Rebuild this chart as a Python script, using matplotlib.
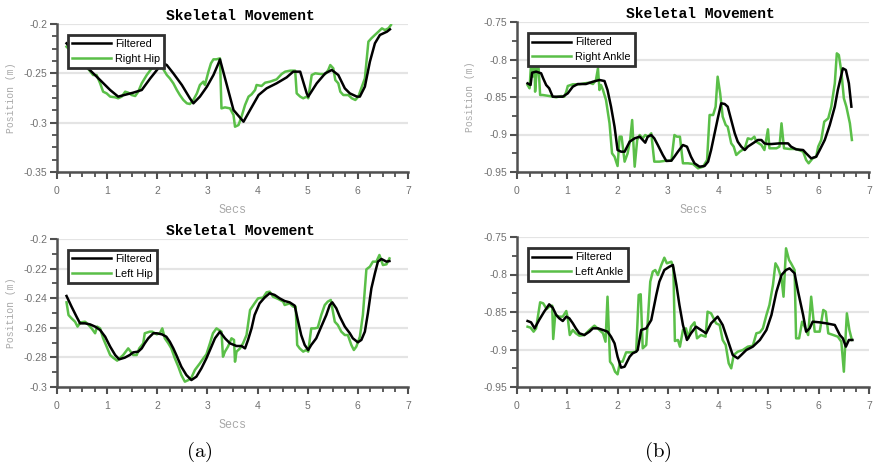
import matplotlib
matplotlib.use("Agg")
import matplotlib.pyplot as plt
from matplotlib.ticker import MultipleLocator, FixedLocator, FixedFormatter

plt.rcParams['mathtext.fontset'] = 'cm'

# ---------------- data ----------------
# Top-left: Right Hip
rhip_f_t = [0.19, 0.62, 0.86, 1.06, 1.22, 1.52, 1.69, 1.86, 2.02, 2.12, 2.19, 2.32, 2.49, 2.65, 2.72, 2.85, 2.99, 3.12, 3.22, 3.25, 3.52, 3.72, 3.85, 4.02, 4.18, 4.38, 4.58, 4.71, 4.85, 4.98, 5.01, 5.18, 5.35, 5.48, 5.61, 5.74, 5.84, 5.98, 6.04, 6.14, 6.24, 6.34, 6.44, 6.58, 6.64]
rhip_f_v = [-0.2196, -0.2449, -0.2568, -0.2669, -0.2736, -0.2696, -0.2669, -0.2551, -0.2449, -0.2399, -0.2416, -0.2500, -0.2618, -0.2753, -0.2804, -0.2736, -0.2635, -0.2517, -0.2399, -0.2358, -0.2872, -0.2990, -0.2872, -0.2720, -0.2652, -0.2601, -0.2541, -0.2483, -0.2483, -0.2703, -0.2736, -0.2601, -0.2500, -0.2466, -0.2517, -0.2652, -0.2703, -0.2736, -0.2736, -0.2635, -0.2382, -0.2196, -0.2111, -0.2078, -0.2054]
rhip_r_t = [0.19, 0.64, 0.72, 0.79, 0.86, 0.92, 0.99, 1.06, 1.16, 1.22, 1.29, 1.36, 1.42, 1.49, 1.56, 1.62, 1.69, 1.79, 1.89, 1.95, 2.05, 2.19, 2.25, 2.32, 2.39, 2.45, 2.52, 2.59, 2.65, 2.72, 2.79, 2.85, 2.92, 2.95, 3.02, 3.07, 3.12, 3.18, 3.25, 3.28, 3.35, 3.45, 3.52, 3.55, 3.62, 3.68, 3.75, 3.82, 3.88, 3.95, 3.98, 4.08, 4.15, 4.25, 4.38, 4.48, 4.55, 4.65, 4.75, 4.78, 4.85, 4.91, 4.98, 5.01, 5.08, 5.15, 5.25, 5.35, 5.41, 5.45, 5.51, 5.55, 5.61, 5.65, 5.71, 5.81, 5.88, 5.95, 6.01, 6.08, 6.14, 6.21, 6.27, 6.34, 6.41, 6.48, 6.54, 6.61, 6.66]
rhip_r_v = [-0.2230, -0.2466, -0.2517, -0.2517, -0.2601, -0.2686, -0.2703, -0.2736, -0.2743, -0.2753, -0.2736, -0.2686, -0.2696, -0.2720, -0.2730, -0.2686, -0.2601, -0.2517, -0.2449, -0.2433, -0.2400, -0.2517, -0.2551, -0.2601, -0.2669, -0.2720, -0.2770, -0.2804, -0.2811, -0.2770, -0.2703, -0.2618, -0.2584, -0.2618, -0.2483, -0.2399, -0.2358, -0.2358, -0.2348, -0.2855, -0.2845, -0.2855, -0.2922, -0.3041, -0.3024, -0.2939, -0.2821, -0.2736, -0.2713, -0.2669, -0.2618, -0.2628, -0.2595, -0.2584, -0.2561, -0.2507, -0.2483, -0.2473, -0.2473, -0.2703, -0.2736, -0.2753, -0.2736, -0.2753, -0.2517, -0.2500, -0.2507, -0.2507, -0.2466, -0.2416, -0.2449, -0.2568, -0.2601, -0.2686, -0.2720, -0.2720, -0.2753, -0.2770, -0.2736, -0.2635, -0.2551, -0.2179, -0.2145, -0.2111, -0.2078, -0.2044, -0.2061, -0.2044, -0.2010]

# Top-right: Right Ankle
rank_f_t = [0.21, 0.27, 0.30, 0.38, 0.48, 0.52, 0.58, 0.64, 0.71, 0.81, 0.91, 1.01, 1.11, 1.21, 1.37, 1.51, 1.64, 1.74, 1.80, 1.87, 1.94, 2.00, 2.07, 2.14, 2.24, 2.34, 2.44, 2.50, 2.55, 2.60, 2.67, 2.73, 2.80, 2.90, 2.97, 3.07, 3.13, 3.20, 3.30, 3.38, 3.46, 3.53, 3.63, 3.73, 3.80, 3.86, 3.93, 4.00, 4.06, 4.13, 4.19, 4.26, 4.33, 4.39, 4.46, 4.53, 4.59, 4.69, 4.79, 4.86, 4.92, 4.99, 5.06, 5.22, 5.39, 5.45, 5.55, 5.69, 5.75, 5.85, 5.95, 6.02, 6.12, 6.22, 6.32, 6.38, 6.45, 6.48, 6.54, 6.60, 6.65]
rank_f_v = [-0.8318, -0.8340, -0.8176, -0.8162, -0.8184, -0.8251, -0.8340, -0.8384, -0.8496, -0.8496, -0.8496, -0.8451, -0.8362, -0.8327, -0.8327, -0.8296, -0.8273, -0.8287, -0.8407, -0.8629, -0.8896, -0.9207, -0.9229, -0.9229, -0.9096, -0.9051, -0.9029, -0.9073, -0.9109, -0.9029, -0.9007, -0.9051, -0.9140, -0.9273, -0.9353, -0.9349, -0.9296, -0.9229, -0.9140, -0.9162, -0.9296, -0.9384, -0.9429, -0.9420, -0.9362, -0.9207, -0.8984, -0.8762, -0.8584, -0.8593, -0.8629, -0.8807, -0.8984, -0.9096, -0.9162, -0.9207, -0.9162, -0.9118, -0.9073, -0.9073, -0.9118, -0.9127, -0.9127, -0.9118, -0.9118, -0.9162, -0.9198, -0.9207, -0.9251, -0.9318, -0.9296, -0.9207, -0.9073, -0.8873, -0.8629, -0.8407, -0.8207, -0.8118, -0.8140, -0.8318, -0.8629]
rank_r_t = [0.21, 0.25, 0.28, 0.31, 0.35, 0.36, 0.40, 0.43, 0.46, 0.51, 0.64, 0.78, 0.88, 0.94, 0.98, 1.01, 1.11, 1.24, 1.34, 1.44, 1.51, 1.57, 1.61, 1.64, 1.67, 1.71, 1.77, 1.84, 1.89, 1.94, 2.00, 2.04, 2.08, 2.14, 2.20, 2.25, 2.29, 2.34, 2.39, 2.44, 2.50, 2.55, 2.61, 2.67, 2.73, 2.83, 2.97, 3.07, 3.13, 3.18, 3.24, 3.30, 3.40, 3.50, 3.60, 3.70, 3.78, 3.83, 3.90, 3.95, 3.99, 4.04, 4.09, 4.15, 4.19, 4.26, 4.31, 4.36, 4.43, 4.53, 4.59, 4.66, 4.72, 4.76, 4.86, 4.92, 4.99, 5.02, 5.16, 5.22, 5.26, 5.31, 5.42, 5.55, 5.69, 5.75, 5.80, 5.88, 5.95, 5.99, 6.05, 6.11, 6.19, 6.25, 6.32, 6.36, 6.40, 6.45, 6.50, 6.55, 6.62, 6.66]
rank_r_v = [-0.8340, -0.8384, -0.8051, -0.8229, -0.8029, -0.8429, -0.8073, -0.8118, -0.8473, -0.8473, -0.8487, -0.8504, -0.8487, -0.8496, -0.8429, -0.8353, -0.8331, -0.8331, -0.8318, -0.8309, -0.8327, -0.8273, -0.8118, -0.8407, -0.8340, -0.8407, -0.8540, -0.8851, -0.9251, -0.9296, -0.9420, -0.9029, -0.9029, -0.9362, -0.9251, -0.9073, -0.8807, -0.9429, -0.9073, -0.9007, -0.9051, -0.9007, -0.9029, -0.8984, -0.9362, -0.9362, -0.9349, -0.9349, -0.9007, -0.9029, -0.9029, -0.9384, -0.9384, -0.9393, -0.9451, -0.9429, -0.9340, -0.8740, -0.8740, -0.8629, -0.8229, -0.8451, -0.8762, -0.8873, -0.8896, -0.9118, -0.9162, -0.9273, -0.9229, -0.9184, -0.9051, -0.9064, -0.9029, -0.9096, -0.9140, -0.9207, -0.8931, -0.9184, -0.9184, -0.9162, -0.8851, -0.9184, -0.9193, -0.9193, -0.9229, -0.9340, -0.9384, -0.9318, -0.9296, -0.9162, -0.9073, -0.8829, -0.8784, -0.8629, -0.8318, -0.7918, -0.7940, -0.8162, -0.8518, -0.8629, -0.8851, -0.9073]

# Bottom-left: Left Hip
lhip_f_t = [0.19, 0.29, 0.39, 0.46, 0.56, 0.66, 0.76, 0.86, 0.96, 1.06, 1.16, 1.24, 1.35, 1.45, 1.52, 1.62, 1.69, 1.75, 1.82, 1.92, 1.99, 2.09, 2.18, 2.25, 2.32, 2.38, 2.48, 2.58, 2.68, 2.78, 2.88, 2.98, 3.08, 3.15, 3.25, 3.35, 3.45, 3.58, 3.68, 3.75, 3.81, 3.88, 3.94, 4.04, 4.14, 4.24, 4.34, 4.44, 4.54, 4.64, 4.74, 4.81, 4.87, 4.94, 5.01, 5.07, 5.17, 5.27, 5.37, 5.44, 5.49, 5.57, 5.64, 5.74, 5.84, 5.90, 6.00, 6.07, 6.14, 6.20, 6.27, 6.34, 6.40, 6.47, 6.57, 6.63]
lhip_f_v = [-0.2385, -0.2457, -0.2525, -0.2570, -0.2570, -0.2577, -0.2592, -0.2615, -0.2660, -0.2727, -0.2784, -0.2813, -0.2802, -0.2784, -0.2766, -0.2761, -0.2739, -0.2705, -0.2671, -0.2637, -0.2637, -0.2644, -0.2660, -0.2694, -0.2739, -0.2784, -0.2863, -0.2919, -0.2953, -0.2930, -0.2874, -0.2806, -0.2727, -0.2671, -0.2626, -0.2671, -0.2705, -0.2723, -0.2723, -0.2739, -0.2682, -0.2604, -0.2514, -0.2435, -0.2396, -0.2367, -0.2378, -0.2401, -0.2419, -0.2428, -0.2450, -0.2559, -0.2649, -0.2716, -0.2750, -0.2716, -0.2671, -0.2592, -0.2514, -0.2446, -0.2428, -0.2468, -0.2525, -0.2592, -0.2637, -0.2671, -0.2698, -0.2682, -0.2626, -0.2502, -0.2333, -0.2232, -0.2153, -0.2135, -0.2153, -0.2149]
lhip_r_t = [0.19, 0.23, 0.29, 0.36, 0.41, 0.47, 0.56, 0.62, 0.69, 0.76, 0.80, 0.86, 0.92, 0.99, 1.06, 1.12, 1.20, 1.25, 1.32, 1.42, 1.47, 1.52, 1.59, 1.64, 1.72, 1.75, 1.85, 1.90, 1.99, 2.05, 2.10, 2.15, 2.22, 2.28, 2.35, 2.42, 2.48, 2.55, 2.62, 2.68, 2.75, 2.85, 2.92, 2.98, 3.05, 3.11, 3.18, 3.28, 3.31, 3.35, 3.41, 3.48, 3.53, 3.55, 3.58, 3.65, 3.71, 3.78, 3.85, 3.94, 4.01, 4.11, 4.18, 4.24, 4.31, 4.41, 4.51, 4.54, 4.64, 4.71, 4.76, 4.79, 4.84, 4.91, 4.97, 5.01, 5.07, 5.14, 5.20, 5.27, 5.34, 5.40, 5.46, 5.54, 5.60, 5.67, 5.74, 5.80, 5.87, 5.92, 5.97, 6.04, 6.10, 6.17, 6.24, 6.30, 6.37, 6.43, 6.50, 6.57, 6.63]
lhip_r_v = [-0.2428, -0.2514, -0.2536, -0.2559, -0.2592, -0.2563, -0.2559, -0.2577, -0.2604, -0.2637, -0.2592, -0.2604, -0.2671, -0.2727, -0.2784, -0.2802, -0.2822, -0.2806, -0.2784, -0.2739, -0.2761, -0.2784, -0.2784, -0.2739, -0.2705, -0.2637, -0.2626, -0.2626, -0.2644, -0.2637, -0.2604, -0.2671, -0.2705, -0.2739, -0.2806, -0.2863, -0.2919, -0.2964, -0.2953, -0.2937, -0.2885, -0.2840, -0.2806, -0.2779, -0.2705, -0.2637, -0.2604, -0.2626, -0.2795, -0.2761, -0.2727, -0.2671, -0.2682, -0.2829, -0.2761, -0.2739, -0.2705, -0.2649, -0.2480, -0.2435, -0.2401, -0.2396, -0.2360, -0.2356, -0.2390, -0.2405, -0.2423, -0.2446, -0.2435, -0.2457, -0.2457, -0.2716, -0.2739, -0.2761, -0.2750, -0.2761, -0.2604, -0.2604, -0.2599, -0.2514, -0.2446, -0.2423, -0.2412, -0.2559, -0.2581, -0.2626, -0.2649, -0.2649, -0.2716, -0.2750, -0.2727, -0.2660, -0.2514, -0.2205, -0.2187, -0.2153, -0.2153, -0.2108, -0.2176, -0.2171, -0.2131]

# Bottom-right: Left Ankle
lank_f_t = [0.21, 0.28, 0.35, 0.44, 0.54, 0.64, 0.71, 0.78, 0.84, 0.91, 0.98, 1.04, 1.11, 1.17, 1.24, 1.34, 1.44, 1.51, 1.61, 1.71, 1.80, 1.87, 1.94, 2.00, 2.07, 2.14, 2.24, 2.30, 2.37, 2.40, 2.47, 2.57, 2.67, 2.77, 2.83, 2.93, 3.03, 3.10, 3.17, 3.23, 3.30, 3.38, 3.46, 3.56, 3.66, 3.76, 3.86, 3.99, 4.09, 4.19, 4.29, 4.39, 4.46, 4.56, 4.69, 4.83, 4.96, 5.06, 5.16, 5.26, 5.35, 5.42, 5.52, 5.59, 5.69, 5.75, 5.82, 5.88, 6.02, 6.15, 6.32, 6.42, 6.48, 6.54, 6.60, 6.67]
lank_f_v = [-0.8620, -0.8638, -0.8718, -0.8607, -0.8496, -0.8398, -0.8442, -0.8540, -0.8584, -0.8620, -0.8562, -0.8584, -0.8651, -0.8718, -0.8784, -0.8807, -0.8762, -0.8718, -0.8718, -0.8740, -0.8762, -0.8829, -0.8918, -0.9096, -0.9242, -0.9229, -0.9096, -0.9051, -0.9029, -0.9007, -0.8740, -0.8718, -0.8607, -0.8273, -0.8096, -0.7940, -0.7896, -0.7873, -0.8140, -0.8407, -0.8673, -0.8873, -0.8784, -0.8696, -0.8740, -0.8784, -0.8651, -0.8562, -0.8673, -0.8873, -0.9073, -0.9118, -0.9073, -0.9007, -0.8962, -0.8873, -0.8740, -0.8540, -0.8229, -0.8007, -0.7940, -0.7918, -0.7984, -0.8229, -0.8540, -0.8762, -0.8718, -0.8629, -0.8638, -0.8651, -0.8673, -0.8807, -0.8851, -0.8962, -0.8873, -0.8873]
lank_r_t = [0.21, 0.27, 0.33, 0.38, 0.41, 0.46, 0.52, 0.59, 0.64, 0.70, 0.72, 0.76, 0.84, 0.91, 0.98, 1.01, 1.05, 1.11, 1.17, 1.24, 1.34, 1.44, 1.54, 1.64, 1.71, 1.76, 1.80, 1.85, 1.90, 1.95, 2.00, 2.05, 2.10, 2.17, 2.27, 2.37, 2.42, 2.46, 2.50, 2.57, 2.65, 2.70, 2.75, 2.80, 2.87, 2.93, 2.98, 3.07, 3.11, 3.14, 3.20, 3.24, 3.30, 3.36, 3.41, 3.46, 3.53, 3.58, 3.66, 3.75, 3.79, 3.86, 3.96, 4.03, 4.09, 4.15, 4.21, 4.26, 4.31, 4.39, 4.49, 4.59, 4.69, 4.76, 4.83, 4.89, 4.96, 5.02, 5.09, 5.14, 5.19, 5.26, 5.30, 5.35, 5.41, 5.45, 5.52, 5.55, 5.61, 5.67, 5.72, 5.79, 5.85, 5.92, 6.02, 6.09, 6.14, 6.19, 6.29, 6.38, 6.45, 6.50, 6.54, 6.56, 6.61, 6.66]
lank_r_v = [-0.8696, -0.8709, -0.8762, -0.8718, -0.8584, -0.8371, -0.8384, -0.8460, -0.8429, -0.8416, -0.8860, -0.8540, -0.8562, -0.8562, -0.8487, -0.8584, -0.8807, -0.8740, -0.8784, -0.8816, -0.8807, -0.8740, -0.8682, -0.8740, -0.8784, -0.8896, -0.8296, -0.9162, -0.9207, -0.9296, -0.9331, -0.9162, -0.9162, -0.9038, -0.9038, -0.9029, -0.8273, -0.8264, -0.8984, -0.8940, -0.8096, -0.7962, -0.7940, -0.8007, -0.7873, -0.7776, -0.7851, -0.7829, -0.7918, -0.8887, -0.8873, -0.8962, -0.8740, -0.8718, -0.8851, -0.8696, -0.8638, -0.8851, -0.8807, -0.8829, -0.8496, -0.8518, -0.8651, -0.8673, -0.8873, -0.8940, -0.9184, -0.9251, -0.9073, -0.9029, -0.9007, -0.8962, -0.8949, -0.8784, -0.8771, -0.8718, -0.8540, -0.8407, -0.8140, -0.7851, -0.7909, -0.8051, -0.8296, -0.7651, -0.7807, -0.7851, -0.7940, -0.8851, -0.8851, -0.8629, -0.8696, -0.8807, -0.8296, -0.8762, -0.8762, -0.8473, -0.8496, -0.8784, -0.8807, -0.8829, -0.8896, -0.9296, -0.8762, -0.8518, -0.8740, -0.8873]

raw_labels = ["Right Hip", "Right Ankle", "Left Hip", "Left Ankle"]
hip_top_ticks = [-0.35, -0.3, -0.25, -0.2]
hip_top_labels = ["-0.35", "-0.3", "-0.25", "-0.2"]
hip_bot_ticks = [-0.3, -0.28, -0.26, -0.24, -0.22, -0.2]
hip_bot_labels = ["-0.3", "-0.28", "-0.26", "-0.24", "-0.22", "-0.2"]
ankle_ticks = [-0.95, -0.9, -0.85, -0.8, -0.75]
ankle_labels = ["-0.95", "-0.9", "-0.85", "-0.8", "-0.75"]
x_ticks = [0, 1, 2, 3, 4, 5, 6, 7]

# ---------------- style ----------------
W, H = 873, 468
GREEN = '#5abf48'
SPINE = '#505050'
TICKLBL = '#707070'
LABELC = '#a8a8a8'
GRID = '#e4e4e4'

fig = plt.figure(figsize=(W / 100, H / 100), dpi=100)

def px_axes(l, t, r, b):
    return fig.add_axes([l / W, 1 - b / H, (r - l) / W, (b - t) / H])

ax1 = px_axes(57, 24, 408, 172)
ax2 = px_axes(517, 22, 869, 172)
ax3 = px_axes(57, 239, 408, 387)
ax4 = px_axes(517, 237, 869, 387)

panels = [
    (ax1, rhip_f_t, rhip_f_v, rhip_r_t, rhip_r_v, raw_labels[0], hip_top_ticks, hip_top_labels, 0.0125, True, True),
    (ax2, rank_f_t, rank_f_v, rank_r_t, rank_r_v, raw_labels[1], ankle_ticks, ankle_labels, 0.025, True, True),
    (ax3, lhip_f_t, lhip_f_v, lhip_r_t, lhip_r_v, raw_labels[2], hip_bot_ticks, hip_bot_labels, 0.01, True, True),
    (ax4, lank_f_t, lank_f_v, lank_r_t, lank_r_v, raw_labels[3], ankle_ticks, ankle_labels, 0.025, False, False),
]

for ax, ft, fv, rt, rv, lab, yt, ytl, yminor, has_title, has_labels in panels:
    ax.plot(ft, fv, color='black', lw=1.8, label='Filtered', zorder=3)
    ax.plot(rt, rv, color=GREEN, lw=1.8, label=lab, zorder=2)
    ax.set_xlim(0, 7)
    ax.set_ylim(yt[0], yt[-1])
    ax.xaxis.set_major_locator(FixedLocator(x_ticks))
    ax.xaxis.set_major_formatter(FixedFormatter([str(v) for v in x_ticks]))
    ax.xaxis.set_minor_locator(MultipleLocator(0.25))
    ax.yaxis.set_major_locator(FixedLocator(yt))
    ax.yaxis.set_major_formatter(FixedFormatter(ytl))
    ax.yaxis.set_minor_locator(MultipleLocator(yminor))
    for s in ['top', 'right']:
        ax.spines[s].set_visible(False)
    for s in ['left', 'bottom']:
        ax.spines[s].set_color(SPINE)
        ax.spines[s].set_linewidth(1.8)
    ax.tick_params(which='major', direction='out', length=5, width=1.5, color=SPINE,
                   labelcolor=TICKLBL, labelsize=7.5)
    ax.tick_params(which='minor', direction='out', length=3.5, width=1.3, color=SPINE)
    ax.tick_params(axis='x', which='major', pad=5)
    ax.tick_params(axis='y', which='major', pad=2)
    for tl in ax.get_xticklabels() + ax.get_yticklabels():
        tl.set_family('Liberation Sans')
    ax.yaxis.grid(True, which='major', color=GRID, lw=1.6)
    ax.set_axisbelow(True)
    leg = ax.legend(loc='upper left', bbox_to_anchor=(0.031, 0.926), borderaxespad=0,
                    prop={'family': 'Liberation Sans', 'size': 7.8},
                    handlelength=3.6, handletextpad=0.35, borderpad=0.4,
                    labelspacing=0.4, fancybox=False, framealpha=1)
    leg.get_frame().set_edgecolor('#303030')
    leg.get_frame().set_linewidth(2.0)
    if has_title:
        ax.set_title('Skeletal Movement', family='Liberation Mono', fontweight='bold',
                     fontsize=10.5, x=0.522, pad=3)
    if has_labels:
        ax.set_xlabel('Secs', family='Liberation Mono', fontsize=8.5, color=LABELC)
        ax.xaxis.set_label_coords(0.5, -0.215)
        ax.set_ylabel('Position (m)', family='Liberation Mono', fontsize=7, color=LABELC)
        ax.yaxis.set_label_coords(-0.118, 0.5)

fig.text(199 / W, 1 - 452 / H, r'$\mathrm{(a)}$', ha='center', va='center', fontsize=15)
fig.text(658 / W, 1 - 452 / H, r'$\mathrm{(b)}$', ha='center', va='center', fontsize=15)

fig.savefig('out.png', dpi=100, facecolor='white')
